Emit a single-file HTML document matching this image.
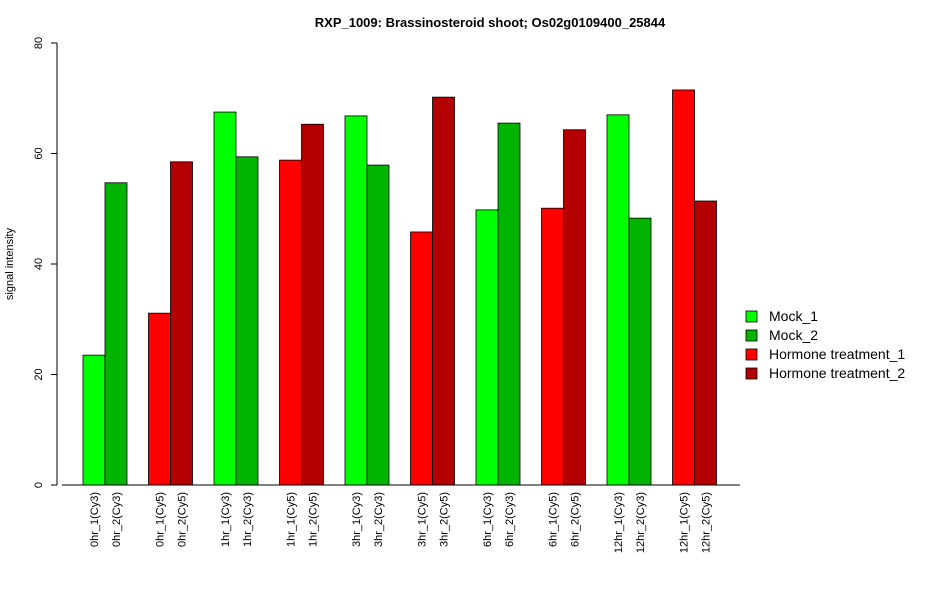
<!DOCTYPE html>
<html><head><meta charset="utf-8"><style>
body{margin:0;background:#fff}
svg{font-family:"Liberation Sans",Arial,sans-serif}
</style></head><body>
<svg id="chart" width="950" height="600" xmlns="http://www.w3.org/2000/svg">
<text x="490" y="27" text-anchor="middle" font-size="13" font-weight="bold">RXP_1009: Brassinosteroid shoot; Os02g0109400_25844</text>
<text transform="translate(13,264) rotate(-90)" text-anchor="middle" font-size="11">signal intensity</text>
<g id="yaxis"></g>
<g id="bars"></g>
<g id="xlabels"></g>
<line x1="62" y1="485" x2="740" y2="485" stroke="#000"/>
<g id="legend"></g>
</svg>
<script>
const categories=["0hr_1(Cy3)","0hr_2(Cy3)","0hr_1(Cy5)","0hr_2(Cy5)","1hr_1(Cy3)","1hr_2(Cy3)","1hr_1(Cy5)","1hr_2(Cy5)","3hr_1(Cy3)","3hr_2(Cy3)","3hr_1(Cy5)","3hr_2(Cy5)","6hr_1(Cy3)","6hr_2(Cy3)","6hr_1(Cy5)","6hr_2(Cy5)","12hr_1(Cy3)","12hr_2(Cy3)","12hr_1(Cy5)","12hr_2(Cy5)"];
const values=[23.5,54.7,31.1,58.5,67.5,59.4,58.8,65.3,66.8,57.9,45.8,70.2,49.8,65.5,50.1,64.3,67.0,48.3,71.5,51.4];
const seriesIndex=[0,1,2,3,0,1,2,3,0,1,2,3,0,1,2,3,0,1,2,3];
const seriesNames=["Mock_1","Mock_2","Hormone treatment_1","Hormone treatment_2"];
const seriesColors=["#00ff00","#00b400","#ff0000","#b40000"];
const yTicks=[0,20,40,60,80];
const NS="http://www.w3.org/2000/svg";
function y(v){return 485-v*(442/80);}
function x(i){return 83+Math.floor(i/2)*65.5+(i%2)*22;}
function mk(t,a,p){const e=document.createElementNS(NS,t);for(const k in a)e.setAttribute(k,a[k]);p.appendChild(e);return e;}
const ya=document.getElementById('yaxis');
mk('line',{x1:57,y1:y(0),x2:57,y2:y(80),stroke:'#000'},ya);
yTicks.forEach(t=>{
 const l=mk('line',{x1:51,y1:y(t),x2:57,y2:y(t),stroke:'#000'},ya);
 
 
 const tx=mk('text',{transform:`translate(42,${y(t)}) rotate(-90)`,'text-anchor':'middle','font-size':11},ya);
 tx.textContent=t;
 
 
});
const bg=document.getElementById('bars'),xl=document.getElementById('xlabels');
values.forEach((v,i)=>{
 const r=mk('rect',{x:x(i),y:y(v),width:22,height:485-y(v),fill:seriesColors[seriesIndex[i]],stroke:'#000','stroke-width':0.8},bg);
 
 
 const t=mk('text',{transform:`translate(${x(i)+15},492) rotate(-90)`,'text-anchor':'end','font-size':11},xl);
 t.textContent=categories[i];
 
 
});
const lg=document.getElementById('legend');
seriesNames.forEach((n,i)=>{
 const yy=316+i*19;
 const r=mk('rect',{x:746,y:yy-5,width:11,height:11,fill:seriesColors[i],stroke:'#000','stroke-width':0.8},lg);
 
 
 const t=mk('text',{x:769,y:yy+5,'font-size':14},lg);
 t.textContent=n;
 
 
});
</script>
</body></html>
